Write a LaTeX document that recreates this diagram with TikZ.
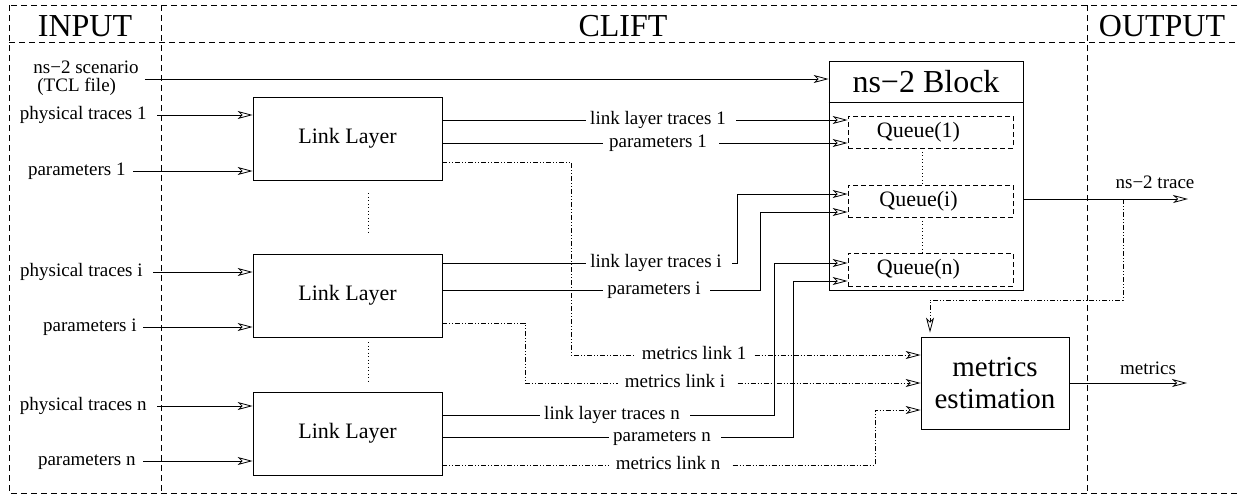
\documentclass[tikz,border=0pt]{standalone}
\usepackage{fontspec}
\setmainfont{Liberation Serif}
\usetikzlibrary{arrows.meta}
\begin{document}
\begin{tikzpicture}[x=1pt,y=-1pt,line width=0.8pt,
  every node/.style={inner sep=0pt},
  lab/.style={font=\fontsize{19}{21}\selectfont, text height=13pt, text depth=4pt},
  head/.style={font=\fontsize{32}{34}\selectfont},
  frame/.style={dash pattern=on 6pt off 4pt},
  llbox/.style={draw, minimum width=189pt, minimum height=83pt, font=\fontsize{22}{24}\selectfont},
  qbox/.style={draw, dash pattern=on 5pt off 3pt, minimum width=165pt, minimum height=32pt},
  qtext/.style={font=\fontsize{22}{24}\selectfont, xshift=-12pt},
  arr/.style={-{Stealth[open,length=15pt,width=8pt,inset=4pt]}},
  dd/.style={dash pattern=on 5pt off 2pt on 1pt off 2pt on 1pt off 2pt},
  dots/.style={dash pattern=on 1pt off 2.5pt}
]
\useasboundingbox (0,0) rectangle (1238,496);

% frame
\draw[frame] (9,5) rectangle (1250,493);
\draw[frame] (9,42) -- (1250,42);
\draw[frame] (161,5) -- (161,493);
\draw[frame] (1087,5) -- (1087,493);
\node[head] (hin) at (85,26) {INPUT};
\node[head] (hcl) at (623,26) {CLIFT};
\node[head] (hout) at (1162,26) {OUTPUT};

% link layer boxes
\node[llbox] (LL1) at (347.5,138.5) {Link Layer};
\node[llbox] (LL2) at (347.5,295.5) {Link Layer};
\node[llbox] (LL3) at (347.5,433.5) {Link Layer};
\draw[dots] (368,193) -- (368,233);
\draw[dots] (368,342) -- (368,382);

% ns-2 block
\node[draw, minimum width=194pt, minimum height=229pt] (NS) at (926,175.5) {};
\draw (NS.west |- 0,102) -- (NS.east |- 0,102);
\node[head] (nstitle) at (926,82) {ns−2 Block};
\node[qbox, label={[qtext]center:Queue(1)}] (Q1) at (930.5,132) {};
\node[qbox, label={[qtext]center:Queue(i)}] (Qi) at (930.5,201) {};
\node[qbox, minimum height=33pt, label={[qtext]center:Queue(n)}] (Qn) at (930.5,269.5) {};
\draw[dots] (Q1.south -| 922,0) -- (Qi.north -| 922,0);
\draw[dots] (Qi.south -| 922,0) -- (Qn.north -| 922,0);

% metrics estimation
\node[draw, minimum width=148pt, minimum height=92pt, align=center,
      font=\fontsize{29}{32}\selectfont] (ME) at (995,383) {metrics\\estimation};

% inputs
\node[lab, align=left, text height=, text depth=, font=\fontsize{19}{18}\selectfont] (ns2s) at (86,78) {ns−2 scenario\\\hspace{4pt}(TCL file)};
\draw[arr] ([xshift=6pt]ns2s.east |- 0,79) -- (NS.west |- 0,79);

\node[lab, anchor=east] (pt1) at (147,115) {physical traces 1};
\node[lab, anchor=east] (p1) at (126,171) {parameters 1};
\node[lab, anchor=east] (pti) at (143,272) {physical traces i};
\node[lab, anchor=east] (pi) at (137,327) {parameters i};
\node[lab, anchor=east] (ptn) at (147,406) {physical traces n};
\node[lab, anchor=east] (pn) at (136,461) {parameters n};
\draw[arr] ([xshift=10pt]pt1.east) -- (pt1.east -| LL1.west);
\draw[arr] ([xshift=7pt]p1.east) -- (p1.east -| LL1.west);
\draw[arr] ([xshift=10pt]pti.east) -- (pti.east -| LL2.west);
\draw[arr] ([xshift=6pt]pi.east) -- (pi.east -| LL2.west);
\draw[arr] ([xshift=10pt]ptn.east) -- (ptn.east -| LL3.west);
\draw[arr] ([xshift=7pt]pn.east) -- (pn.east -| LL3.west);

% link layer -> queues
\node[lab] (llt1) at (658,120) {link layer traces 1};
\node[lab] (par1) at (658,143) {parameters 1};
\node[lab] (llti) at (656,263) {link layer traces i};
\node[lab] (pari) at (654,290) {parameters i};
\node[lab] (lltn) at (612,415) {link layer traces n};
\node[lab] (parn) at (662,437) {parameters n};

\draw (LL1.east |- llt1) -- ([xshift=-4pt]llt1.west);
\draw[arr] ([xshift=10pt]llt1.east) -- (Q1.west |- llt1);
\draw (LL1.east |- par1) -- ([xshift=-6pt]par1.west);
\draw[arr] ([xshift=12pt]par1.east) -- (Q1.west |- par1);

\draw (LL2.east |- llti) -- ([xshift=-4pt]llti.west);
\draw[arr] ([xshift=10pt]llti.east) -- (737,263) -- (737,194) -- (Qi.west |- 0,194);
\draw (LL2.east |- pari) -- ([xshift=-4pt]pari.west);
\draw[arr] ([xshift=9pt]pari.east) -- (760,290) -- (760,212) -- (Qi.west |- 0,212);

\draw (LL3.east |- lltn) -- ([xshift=-4pt]lltn.west);
\draw[arr] ([xshift=10pt]lltn.east) -- (774,415) -- (774,263) -- (Qn.west |- 0,263);
\draw (LL3.east |- parn) -- ([xshift=-4pt]parn.west);
\draw[arr] ([xshift=10pt]parn.east) -- (793,437) -- (793,281) -- (Qn.west |- 0,281);

% metrics links
\node[lab] (ml1) at (694,355) {metrics link 1};
\node[lab] (mli) at (675,383) {metrics link i};
\node[lab] (mln) at (668,465) {metrics link n};
\draw[dd] (LL1.east |- 0,162) -- (571,162) -- (571,355) -- ([xshift=-6pt]ml1.west);
\draw[dd,arr] ([xshift=8pt]ml1.east) -- (ME.west |- ml1);
\draw[dd] (LL2.east |- 0,323) -- (525,323) -- (525,383) -- ([xshift=-6pt]mli.west);
\draw[dd,arr] ([xshift=12pt]mli.east) -- (ME.west |- mli);
\draw[dd] (LL3.east |- mln) -- ([xshift=-6pt]mln.west);
\draw[dd,arr] ([xshift=12pt]mln.east) -- (875,465) -- (875,410) -- (ME.west |- 0,410);

% outputs
\coordinate (trend) at (1188,199);
\coordinate (br) at (1123,199);
\draw[arr] (NS.east |- trend) -- (trend);
\node[lab] (trlab) at (1155,184) {ns−2 trace};
\draw[dd,arr,shorten >=4pt] (br) -- (1123,300) -- (930,300) -- (ME.north -| 930,0);

\coordinate (mend) at (1187,383);
\draw[arr] (ME.east) -- (mend);
\node[lab] (mlab) at (1148,370) {metrics};
\end{tikzpicture}
\end{document}
